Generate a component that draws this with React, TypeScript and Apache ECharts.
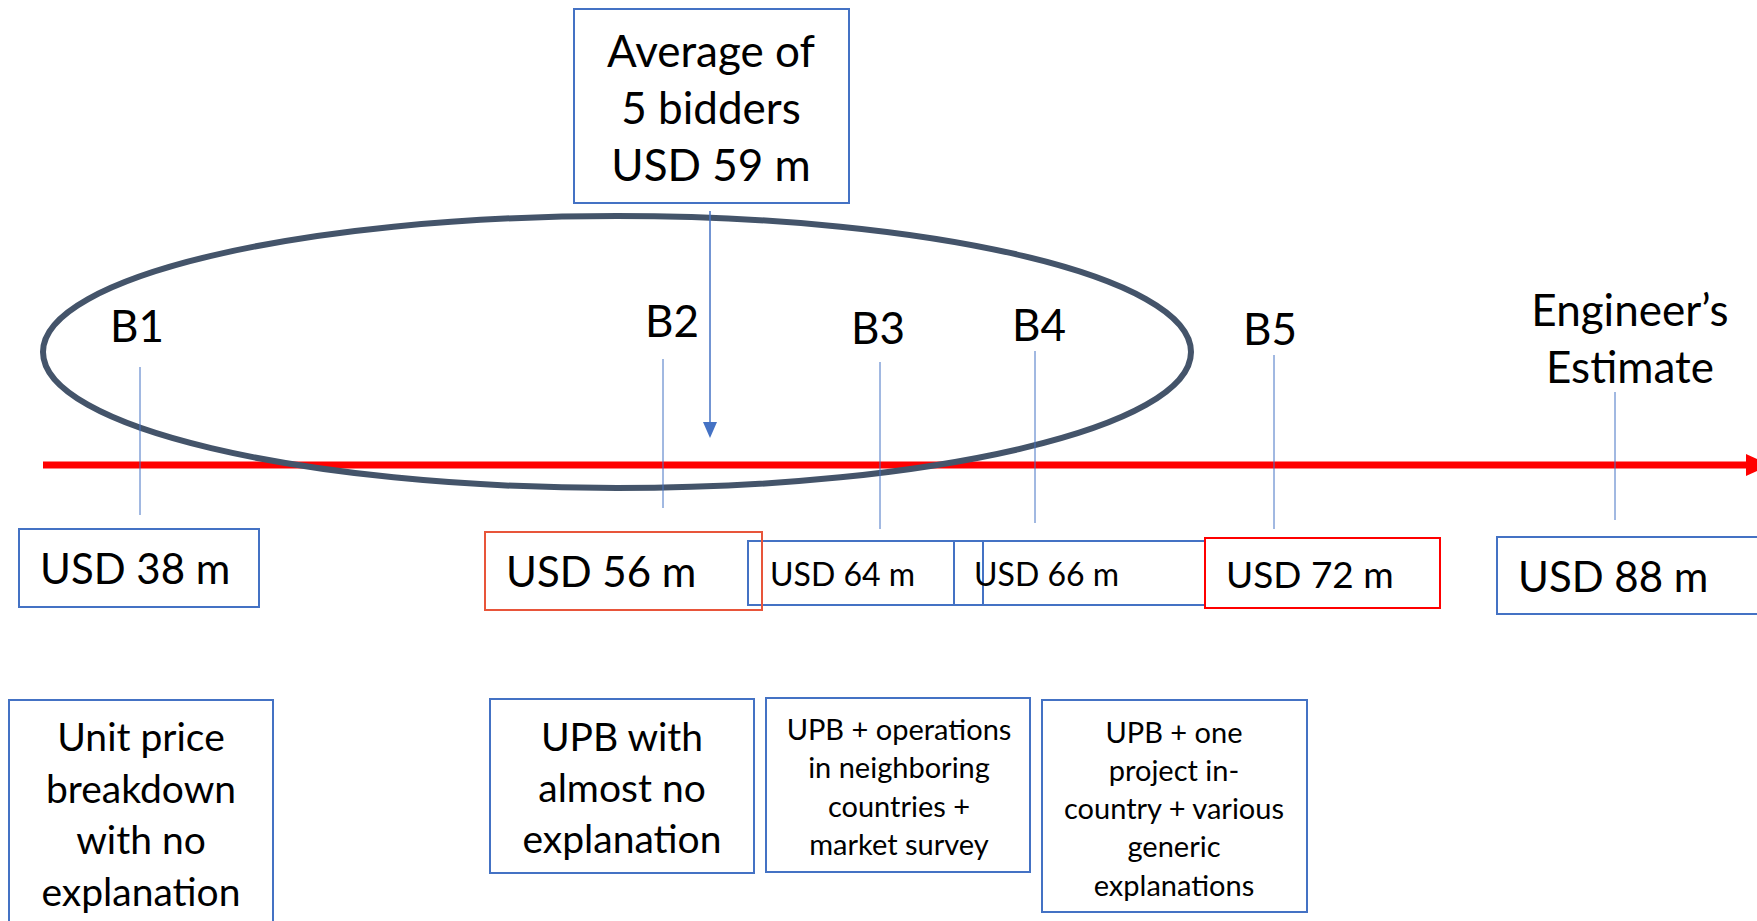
import React, { useEffect, useRef } from "react";
import * as echarts from "echarts";

// ---- data ----
const bidderLabels = ["B1", "B2", "B3", "B4", "B5", "Engineer\u2019s\nEstimate"];
const bidValues = [38, 56, 64, 66, 72, 88];
const averageValue = 59;
const averageCount = 5;
const descriptions = [
  "Unit price\nbreakdown\nwith no\nexplanation",
  "UPB with\nalmost no\nexplanation",
  "UPB + operations\nin neighboring\ncountries +\nmarket survey",
  "UPB + one\nproject in-\ncountry + various\ngeneric\nexplanations",
];

// ---- layout (positions / styles only) ----
const labelPos = [
  [137, 325], [672, 320], [878, 327], [1039, 324], [1270, 328], [1630, 337],
];
const tickLines = [
  [140, 367, 515], [663, 359, 508], [880, 362, 529], [1035, 351, 523], [1274, 355, 529], [1615, 392, 520],
];
const valueBoxes = [
  { x: 19, y: 529, w: 240, h: 78, tx: 40, size: 42, stroke: "#4472C4" },
  { x: 485, y: 532, w: 277, h: 78, tx: 506, size: 42, stroke: "#E8553A" },
  { x: 748, y: 541, w: 235, h: 64, tx: 770, size: 32, stroke: "#4472C4" },
  { x: 954, y: 541, w: 251, h: 64, tx: 974, size: 32, stroke: "#4472C4" },
  { x: 1205, y: 538, w: 235, h: 70, tx: 1226, size: 37, stroke: "#FF0000" },
  { x: 1497, y: 537, w: 273, h: 77, tx: 1518, size: 42, stroke: "#4472C4" },
];
const descBoxes = [
  { x: 9, y: 700, w: 264, h: 240, cx: 141, top: 736, lh: 51.5, size: 39 },
  { x: 490, y: 699, w: 264, h: 174, cx: 622, top: 736, lh: 51, size: 39 },
  { x: 766, y: 698, w: 264, h: 174, cx: 899, top: 728, lh: 38.5, size: 29 },
  { x: 1042, y: 700, w: 265, h: 212, cx: 1174, top: 731, lh: 38.3, size: 29 },
];

const FONT = "Lato, 'Open Sans', sans-serif";
const BLUE = "#4472C4";

export default function App() {
  const ref = useRef<HTMLDivElement>(null);
  useEffect(() => {
    document.body.style.margin = "0";
    const chart = echarts.init(ref.current!, null, { renderer: "svg" });
    const g: any[] = [];

    // ellipse
    g.push({
      type: "ellipse",
      shape: { cx: 617, cy: 352, rx: 574, ry: 136 },
      style: { fill: "none", stroke: "#44546A", lineWidth: 6 },
      z: 5,
    });
    // red timeline
    g.push({
      type: "line",
      shape: { x1: 43, y1: 465, x2: 1750, y2: 465 },
      style: { stroke: "#FF0000", lineWidth: 7 },
      z: 3,
    });
    g.push({
      type: "polygon",
      shape: { points: [[1746, 454], [1770, 465], [1746, 476]] },
      style: { fill: "#FF0000" },
      z: 3,
    });

    // average box + arrow
    g.push({
      type: "rect",
      shape: { x: 574, y: 9, width: 275, height: 194 },
      style: { fill: "#fff", stroke: BLUE, lineWidth: 2 },
      z: 4,
    });
    const avgLines = ["Average of", `${averageCount} bidders`, `USD ${averageValue} m`];
    avgLines.forEach((t, i) => {
      g.push({
        type: "text",
        x: 711,
        y: 50 + i * 57,
        style: { text: t, fill: "#000", font: `44px ${FONT}`, align: "center", verticalAlign: "middle" },
        z: 6,
      });
    });
    g.push({
      type: "line",
      shape: { x1: 710, y1: 211, x2: 710, y2: 426 },
      style: { stroke: BLUE, lineWidth: 1.5 },
      z: 6,
    });
    g.push({
      type: "polygon",
      shape: { points: [[703, 422], [717, 422], [710, 438]] },
      style: { fill: BLUE },
      z: 6,
    });

    // bidder labels and tick lines
    bidderLabels.forEach((lab, i) => {
      const [x, y] = labelPos[i];
      g.push({
        type: "text",
        x,
        y,
        style: {
          text: lab,
          fill: "#000",
          font: `44px ${FONT}`,
          align: "center",
          verticalAlign: "middle",
          lineHeight: 57,
        },
        z: 6,
      });
      const [lx, y1, y2] = tickLines[i];
      g.push({
        type: "line",
        shape: { x1: lx, y1, x2: lx, y2 },
        style: { stroke: BLUE, lineWidth: 1 },
        z: 6,
      });
    });

    // value boxes
    bidValues.forEach((v, i) => {
      const b = valueBoxes[i];
      g.push({
        type: "rect",
        shape: { x: b.x, y: b.y, width: b.w, height: b.h },
        style: { fill: "none", stroke: b.stroke, lineWidth: 2 },
        z: 7 + (b.stroke !== BLUE ? 1 : 0),
      });
      g.push({
        type: "text",
        x: b.tx,
        y: b.y + b.h / 2,
        style: { text: `USD ${v} m`, fill: "#000", font: `${b.size}px ${FONT}`, align: "left", verticalAlign: "middle" },
        z: 9,
      });
    });

    // description boxes
    descriptions.forEach((d, i) => {
      const b = descBoxes[i];
      g.push({
        type: "rect",
        shape: { x: b.x, y: b.y, width: b.w, height: b.h },
        style: { fill: "none", stroke: BLUE, lineWidth: 2 },
        z: 7,
      });
      d.split("\n").forEach((line, j) => {
        g.push({
          type: "text",
          x: b.cx,
          y: b.top + j * b.lh,
          style: { text: line, fill: "#000", font: `${b.size}px ${FONT}`, align: "center", verticalAlign: "middle" },
          z: 9,
        });
      });
    });

    chart.setOption({
      animation: false,
      backgroundColor: "#fff",
      graphic: { elements: g },
    });
    return () => chart.dispose();
  }, []);
  return <div ref={ref} style={{ position: "absolute", left: 0, top: 0, width: 1757, height: 921 }} />;
}
